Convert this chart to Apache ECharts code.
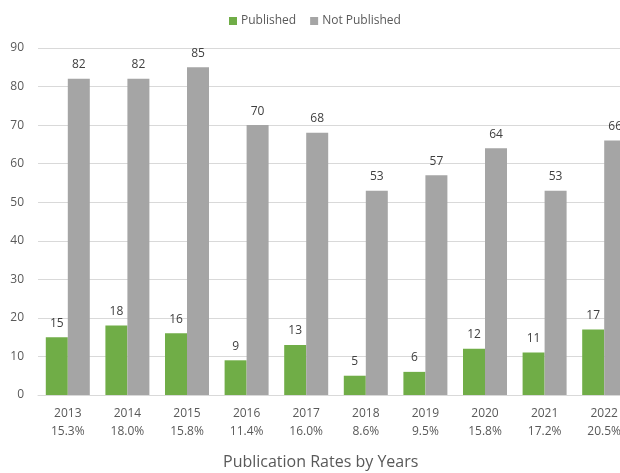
<!DOCTYPE html>
<html>
<head>
<meta charset="utf-8">
<script src="https://cdn.jsdelivr.net/npm/echarts@6/dist/echarts.min.js"></script>
<style>
  html, body { margin: 0; padding: 0; background: #fff; overflow: hidden; }
  #chart { width: 634px; height: 473px; }
</style>
</head>
<body>
<div id="chart"></div>
<script>
const years = ['2013', '2014', '2015', '2016', '2017', '2018', '2019', '2020', '2021', '2022'];
const rates = ['15.3%', '18.0%', '15.8%', '11.4%', '16.0%', '8.6%', '9.5%', '15.8%', '17.2%', '20.5%'];
const published = [15, 18, 16, 9, 13, 5, 6, 12, 11, 17];
const notPublished = [82, 82, 85, 70, 68, 53, 57, 64, 53, 66];
const yTicks = { min: 0, max: 90, interval: 10 };

const categories = years.map((y, i) => y + '\n' + rates[i]);
const font = '"Open Sans", "Noto Sans", sans-serif';

// The plot area runs past the right edge of the visible window, so the
// last grey bar is clipped; legend and title are placed by absolute x.
const chart = echarts.init(document.getElementById('chart'), null, { renderer: 'canvas' });
chart.setOption({
  animation: false,
  textStyle: { fontFamily: font },
  title: {
    text: 'Publication Rates by Years',
    left: 218,
    top: 449,
    textStyle: { fontFamily: font, fontSize: 16, fontWeight: 'normal', color: '#595959' }
  },
  legend: {
    top: 10,
    left: 224,
    itemWidth: 8,
    itemHeight: 8,
    itemGap: 14,
    icon: 'rect',
    textStyle: { fontFamily: font, fontSize: 12, color: '#595959', padding: [0, 0, 0, -1] },
    data: ['Published', 'Not Published']
  },
  grid: { left: 38, right: 0, top: 48, bottom: 78, containLabel: false },
  xAxis: {
    type: 'category',
    data: categories,
    axisLine: { lineStyle: { color: '#d9d9d9' } },
    axisTick: { show: false },
    axisLabel: { fontFamily: font, fontSize: 12, color: '#595959', lineHeight: 18, margin: 10 }
  },
  yAxis: {
    type: 'value',
    min: yTicks.min,
    max: yTicks.max,
    interval: yTicks.interval,
    axisLine: { show: false },
    axisTick: { show: false },
    splitLine: { lineStyle: { color: '#d9d9d9' } },
    axisLabel: { fontFamily: font, fontSize: 12, color: '#595959', margin: 14 }
  },
  series: [
    {
      name: 'Published',
      type: 'bar',
      data: published,
      barWidth: 22,
      barGap: '0%',
      itemStyle: { color: '#70AD47' },
      label: { show: true, position: 'top', distance: 8, fontFamily: font, fontSize: 12, color: '#404040' }
    },
    {
      name: 'Not Published',
      type: 'bar',
      data: notPublished,
      barWidth: 22,
      barGap: '0%',
      itemStyle: { color: '#A5A5A5' },
      label: { show: true, position: 'top', distance: 8, fontFamily: font, fontSize: 12, color: '#404040' }
    }
  ]
});
</script>
</body>
</html>
